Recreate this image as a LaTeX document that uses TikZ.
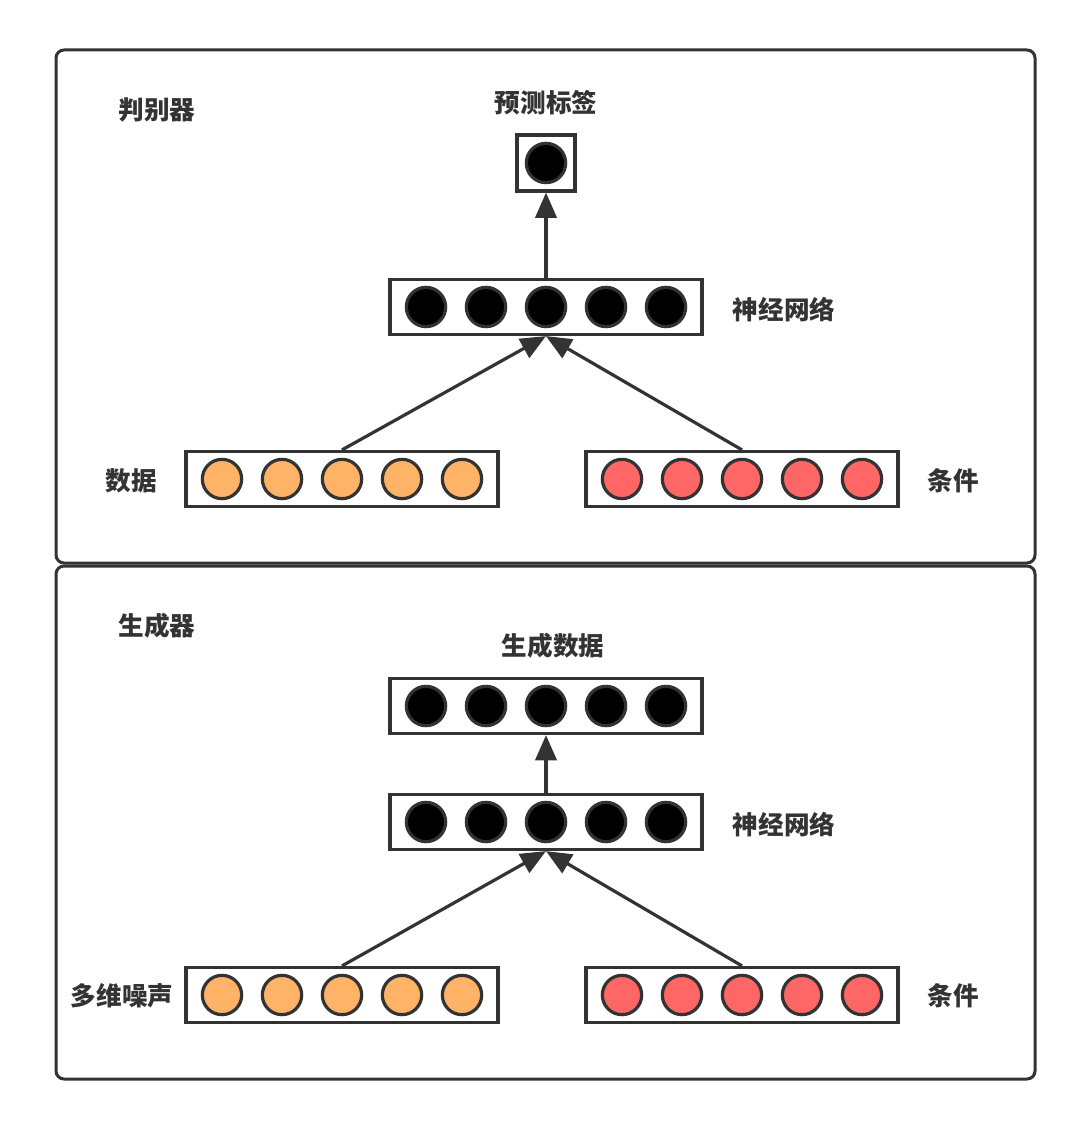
\documentclass[tikz,border=0pt]{standalone}
\usepackage{fontspec}
\usepackage{tikz}
\usetikzlibrary{arrows.meta}
\usetikzlibrary{positioning}
\newfontfamily\cjk{Noto Sans CJK SC}
\definecolor{mgray}{HTML}{333333}
\definecolor{morange}{HTML}{FFB366}
\definecolor{mred}{HTML}{FF6666}
\tikzset{panel/.style = {draw=mgray, line width=2.25pt, rounded corners=6pt},
         layer/.style = {draw=mgray, line width=2.4pt, rectangle,
                         minimum width=234pt, minimum height=41.25pt, inner sep=0pt},
         unit/.style = {draw=mgray, line width=2.4pt, circle,
                        minimum size=29.5pt, inner sep=0pt},
         label/.style = {text=mgray, font=\cjk\bfseries\fontsize{19.2pt}{21pt}\selectfont},
         link/.style = {draw=mgray, line width=2.4pt,
                        -{Triangle[length=19pt, width=16pt]}}}

\begin{document}
\begin{tikzpicture}[x=0.75pt, y=-0.75pt]
      \useasboundingbox (0, 0) rectangle (1085, 1130);

      % discriminator
      \draw [panel] (56, 50) rectangle (1035, 563);
      \node [label] (dtitle) at (157, 110) {判别器};

      \node [layer, minimum width=43.5pt, minimum height=42pt] (dout) at (546, 163) {};
      \node [unit, fill=black] (dout0) at (546, 163) {};
      \node [label] (doutlabel) at (546, 103) {预测标签};

      \node [layer] (dnet) at (546, 307) {};
      \node [label] (dnetlabel) at (784, 310) {神经网络};

      \node [layer] (ddata) at (342, 479) {};
      \node [label] (ddatalabel) at (131, 481) {数据};

      \node [layer] (dcond) at (742, 479) {};
      \node [label] (dcondlabel) at (953, 481) {条件};

      \foreach \i in {0, ..., 4} {
        \node [unit, fill=black] (dnet\i) at (426 + 60*\i, 307) {};
        \node [unit, fill=morange] (ddata\i) at (222 + 60*\i, 479) {};
        \node [unit, fill=mred] (dcond\i) at (622 + 60*\i, 479) {};
      }

      \draw [link] (dnet.north) -- (dout.south);
      \draw [link] (ddata.north) -- (dnet.south);
      \draw [link] (dcond.north) -- (dnet.south);

      % generator
      \draw [panel] (56, 566) rectangle (1035, 1079);
      \node [label] (gtitle) at (157, 626) {生成器};

      \node [layer] (gout) at (546, 706) {};
      \node [label] (goutlabel) at (553, 646) {生成数据};

      \node [layer] (gnet) at (546, 822) {};
      \node [label] (gnetlabel) at (784, 825) {神经网络};

      \node [layer] (gnoise) at (342, 995) {};
      \node [label] (gnoiselabel) at (122, 996) {多维噪声};

      \node [layer] (gcond) at (742, 995) {};
      \node [label] (gcondlabel) at (953, 996) {条件};

      \foreach \i in {0, ..., 4} {
        \node [unit, fill=black] (gout\i) at (426 + 60*\i, 706) {};
        \node [unit, fill=black] (gnet\i) at (426 + 60*\i, 822) {};
        \node [unit, fill=morange] (gnoise\i) at (222 + 60*\i, 995) {};
        \node [unit, fill=mred] (gcond\i) at (622 + 60*\i, 995) {};
      }

      \draw [link] (gnet.north) -- (gout.south);
      \draw [link] (gnoise.north) -- (gnet.south);
      \draw [link] (gcond.north) -- (gnet.south);
    \end{tikzpicture}
\end{document}
